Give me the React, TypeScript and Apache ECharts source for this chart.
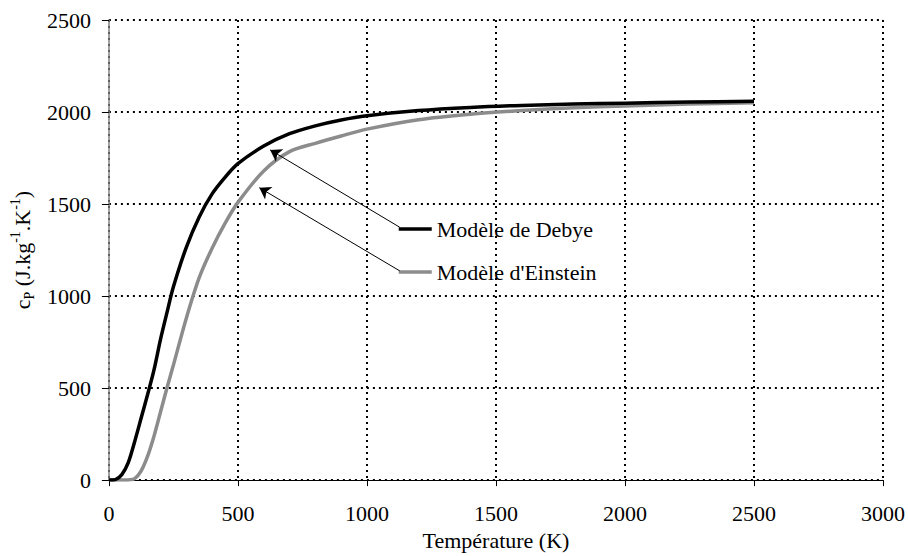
import React, { useEffect, useRef } from "react";
import * as echarts from "echarts";

// Temperature (K)
const temperatures = [0, 25, 50, 75, 100, 125, 150, 175, 200, 225, 250, 300, 350, 400, 450, 500, 600, 700, 800, 900, 1000, 1200, 1400, 1600, 1800, 2000, 2250, 2500];
// c_P (J.kg-1.K-1)
const debyeValues = [0, 3, 30, 95, 210, 337, 465, 600, 765, 910, 1050, 1265, 1430, 1555, 1645, 1719, 1815, 1882, 1925, 1957, 1980, 2008, 2025, 2036, 2043, 2048, 2054, 2058];
const einsteinValues = [0, 0, 0, 1, 8, 50, 130, 240, 370, 500, 625, 880, 1100, 1260, 1395, 1509, 1680, 1785, 1830, 1870, 1907, 1958, 1988, 2008, 2023, 2033, 2043, 2051];

const seriesNames = ["Modèle de Debye", "Modèle d'Einstein"];
const xTicks = [0, 500, 1000, 1500, 2000, 2500, 3000];
const yTicks = [0, 500, 1000, 1500, 2000, 2500];

// annotation arrows (data space): [start, end]
const debyeArrow = [[1127, 1374], [625, 1794]];
const einsteinArrow = [[1127, 1137], [583, 1589]];

const FONT = "'Liberation Serif', 'Times New Roman', serif";

export default function App() {
  const ref = useRef<HTMLDivElement>(null);
  useEffect(() => {
    document.body.style.margin = "0";
    if (!ref.current) return;
    const chart = echarts.init(ref.current, undefined, { renderer: "svg" });
    const pairs = (vals: number[]) => temperatures.map((t, i) => [t, vals[i]]);
    const arrowLine = (a: number[][]) => [
      { coord: a[0], symbol: "none" },
      { coord: a[1], symbol: "arrow" },
    ];
    const plain = (v: number) => String(v);
    chart.setOption({
      animation: false,
      backgroundColor: "#ffffff",
      grid: { left: 105, right: 25, top: 20, bottom: 72 },
      legend: {
        data: seriesNames,
        orient: "vertical",
        left: 392,
        top: 213,
        padding: 5,
        itemWidth: 33,
        itemHeight: 14,
        itemGap: 21,
        itemTextGap: 5,
        itemStyle: { opacity: 0 },
        lineStyle: { width: 3.5 },
        textStyle: { fontFamily: FONT, fontSize: 22, color: "#000" },
      },
      xAxis: {
        type: "value",
        min: xTicks[0],
        max: xTicks[xTicks.length - 1],
        interval: 500,
        name: "Température (K)",
        nameLocation: "middle",
        nameGap: 42,
        nameTextStyle: { fontFamily: FONT, fontSize: 22, color: "#000" },
        axisLine: { show: true, onZero: false, lineStyle: { color: "#000", width: 1 } },
        axisTick: { show: true, length: 6, lineStyle: { color: "#000" } },
        axisLabel: { fontFamily: FONT, fontSize: 22, color: "#000", margin: 22, formatter: plain },
        splitLine: { show: true, lineStyle: { color: "#000", width: 2, type: [2, 4] } },
      },
      yAxis: {
        type: "value",
        min: yTicks[0],
        max: yTicks[yTicks.length - 1],
        interval: 500,
        name: "c{sub|P} (J.kg{sup|-1}.K{sup|-1})",
        nameLocation: "middle",
        nameGap: 71,
        nameTextStyle: {
          fontFamily: FONT,
          fontSize: 22,
          color: "#000",
          lineHeight: 28,
          rich: {
            sub: { fontFamily: FONT, fontSize: 14, lineHeight: 15, verticalAlign: "bottom", color: "#000" },
            sup: { fontFamily: FONT, fontSize: 14, lineHeight: 15, verticalAlign: "top", color: "#000" },
          },
        },
        axisLine: { show: true, onZero: false, lineStyle: { color: "#808080", width: 1.5 } },
        axisTick: { show: true, length: 7, lineStyle: { color: "#000" } },
        axisLabel: { fontFamily: FONT, fontSize: 22, color: "#000", margin: 18, formatter: plain },
        splitLine: { show: true, lineStyle: { color: "#000", width: 2, type: [2, 4] } },
      },
      series: [
        {
          name: seriesNames[0],
          type: "line",
          data: pairs(debyeValues),
          symbol: "none",
          smooth: 0.3,
          lineStyle: { color: "#000", width: 3.5 },
          itemStyle: { color: "#000" },
          z: 3,
          markLine: {
            silent: true,
            symbolSize: 11,
            label: { show: false },
            lineStyle: { color: "#000", width: 1, type: "solid" },
            data: [arrowLine(debyeArrow), arrowLine(einsteinArrow)],
          },
        },
        {
          name: seriesNames[1],
          type: "line",
          data: pairs(einsteinValues),
          symbol: "none",
          smooth: 0.3,
          lineStyle: { color: "#8c8c8c", width: 3.5 },
          itemStyle: { color: "#8c8c8c" },
          z: 2,
        },
      ],
    });
    return () => chart.dispose();
  }, []);
  return <div ref={ref} style={{ width: 908, height: 556 }} />;
}
